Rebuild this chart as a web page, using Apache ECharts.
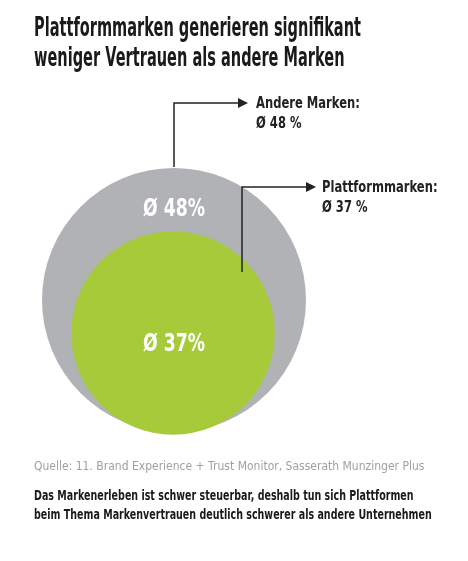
<!DOCTYPE html>
<html><head><meta charset="utf-8">
<script src="https://cdn.jsdelivr.net/npm/echarts@6/dist/echarts.min.js"></script>
<style>html,body{margin:0;padding:0;background:#fff}#c{width:468px;height:561px}</style>
</head><body><div id="c"></div>
<script>
const categories = ['Andere Marken', 'Plattformmarken'];
const values = [48, 37];
const centersX = [174, 173];
const centersY = [300, 333];
const labels = ['Ø 48%', 'Ø 37%'];
const colors = ['#b1b2b6', '#a6ca3a'];
const F = '"DejaVu Sans",sans-serif';
const T = (x, y, text, font, sx, lh, fill, align) => ({type: 'text', x: x, y: y, scaleX: sx, z: 100,
  style: {text: text, font: font, lineHeight: lh, fill: fill, align: align || 'left', verticalAlign: 'top'}});
const chart = echarts.init(document.getElementById('c'));
chart.setOption({
  animation: false,
  grid: {left: 0, right: 0, top: 0, bottom: 0},
  xAxis: {type: 'value', min: 0, max: 468, show: false},
  yAxis: {type: 'value', min: 0, max: 561, inverse: true, show: false},
  series: [{
    type: 'scatter',
    data: values.map((v, i) => ({value: [centersX[i], centersY[i]], symbolSize: v * 5.5,
      itemStyle: {color: colors[i], opacity: 1}})),
    silent: true
  }],
  graphic: [
    T(34, 14, 'Plattformmarken generieren signifikant\nweniger Vertrauen als andere Marken', 'bold 26px ' + F, 0.56, 30, '#1a1a1a'),
    T(34, 460, 'Quelle: 11. Brand Experience + Trust Monitor, Sasserath Munzinger Plus', '12px ' + F, 0.9, 14, '#a0a0a0'),
    T(34, 487, 'Das Markenerleben ist schwer steuerbar, deshalb tun sich Plattformen\nbeim Thema Markenvertrauen deutlich schwerer als andere Unternehmen', 'bold 14px ' + F, 0.68, 19, '#1a1a1a'),
    T(174, 196, labels[0], 'bold 24px ' + F, 0.72, 28, '#fff', 'center'),
    T(174, 331, labels[1], 'bold 24px ' + F, 0.72, 28, '#fff', 'center'),
    {type: 'polyline', z: 100, shape: {points: [[174, 167], [174, 103], [240, 103]]}, style: {stroke: '#222', lineWidth: 1.5, fill: null}},
    {type: 'polygon', z: 100, shape: {points: [[248, 103], [238, 98], [238, 108]]}, style: {fill: '#222'}},
    {type: 'polyline', z: 100, shape: {points: [[242, 272], [242, 187], [308, 187]]}, style: {stroke: '#222', lineWidth: 1.5, fill: null}},
    {type: 'polygon', z: 100, shape: {points: [[316, 187], [306, 182], [306, 192]]}, style: {fill: '#222'}},
    T(256, 94, categories[0] + ':\nØ ' + values[0] + ' %', 'bold 15px ' + F, 0.77, 20, '#222'),
    T(322, 178, categories[1] + ':\nØ ' + values[1] + ' %', 'bold 15px ' + F, 0.77, 20, '#222')
  ]
});
</script></body></html>
